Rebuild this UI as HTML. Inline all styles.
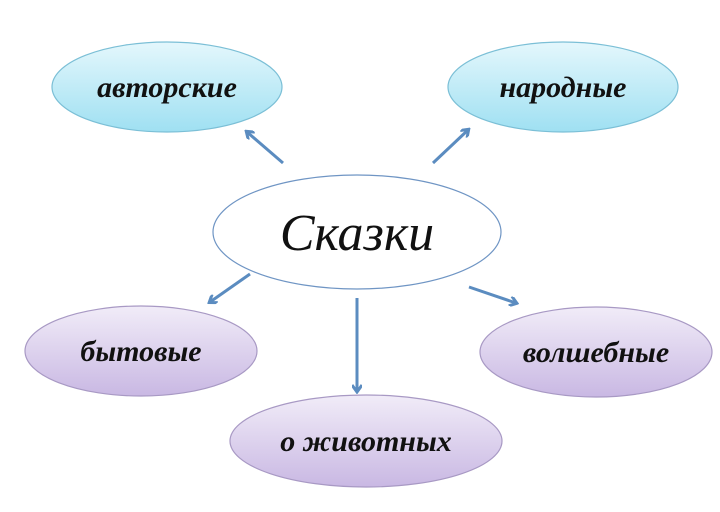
<!DOCTYPE html>
<html><head><meta charset="utf-8"><style>
html,body{margin:0;padding:0;background:#fff;}
svg{display:block}
text{font-family:"Liberation Serif",serif;font-style:italic;font-weight:bold;fill:#111;text-anchor:middle;}
</style></head><body>
<svg width="720" height="512" viewBox="0 0 720 512" xmlns="http://www.w3.org/2000/svg">
<defs>
<linearGradient id="b" x1="0" y1="0" x2="0" y2="1"><stop offset="0" stop-color="#e4f7fc"/><stop offset="1" stop-color="#9fe0f2"/></linearGradient>
<linearGradient id="p" x1="0" y1="0" x2="0" y2="1"><stop offset="0" stop-color="#f1ecf8"/><stop offset="1" stop-color="#c9b8e3"/></linearGradient>
<marker id="a" markerWidth="10" markerHeight="10" refX="7" refY="5" orient="auto" markerUnits="userSpaceOnUse"><path d="M1,0 L8,5 L1,10" fill="none" stroke="#5b8cc0" stroke-width="3"/></marker>
</defs>
<g stroke-width="1.2">
<ellipse cx="167" cy="87" rx="115" ry="45" fill="url(#b)" stroke="#7bbfd6"/>
<ellipse cx="563" cy="87" rx="115" ry="45" fill="url(#b)" stroke="#7bbfd6"/>
<ellipse cx="357" cy="232" rx="144" ry="57" fill="#fff" stroke="#6f95c4"/>
<ellipse cx="141" cy="351" rx="116" ry="45" fill="url(#p)" stroke="#a899c4"/>
<ellipse cx="596" cy="352" rx="116" ry="45" fill="url(#p)" stroke="#a899c4"/>
<ellipse cx="366" cy="441" rx="136" ry="46" fill="url(#p)" stroke="#a899c4"/>
</g>
<g stroke="#5b8cc0" stroke-width="3" fill="none" marker-end="url(#a)">
<line x1="283" y1="163" x2="247" y2="132"/>
<line x1="433" y1="163" x2="468" y2="130"/>
<line x1="250" y1="274" x2="210" y2="302"/>
<line x1="469" y1="287" x2="516" y2="303"/>
<line x1="357" y1="298" x2="357" y2="391"/>
</g>
<text x="167" y="97" font-size="30">авторские</text>
<text x="563" y="97" font-size="30">народные</text>
<text x="357" y="250" font-size="52" style="font-weight:normal">Сказки</text>
<text x="141" y="361" font-size="30">бытовые</text>
<text x="596" y="362" font-size="30">волшебные</text>
<text x="366" y="451" font-size="30">о животных</text>
</svg>
</body></html>
